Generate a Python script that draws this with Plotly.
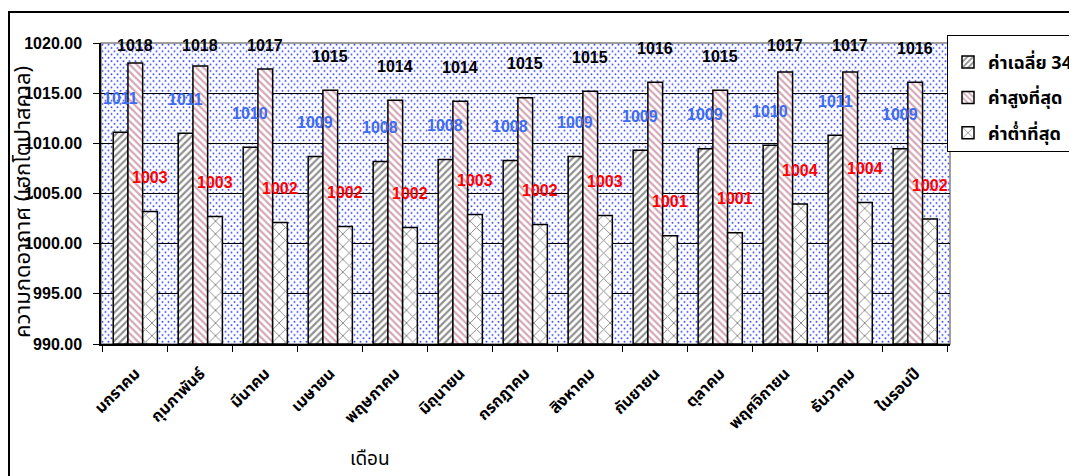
import base64
import plotly.graph_objects as go

months = ["มกราคม", "กุมภาพันธ์", "มีนาคม", "เมษายน", "พฤษภาคม", "มิถุนายน", "กรกฎาคม",
          "สิงหาคม", "กันยายน", "ตุลาคม", "พฤศจิกายน", "ธันวาคม", "ในรอบปี"]
avg_34y = [1011.1, 1011.0, 1009.6, 1008.7, 1008.2, 1008.4, 1008.3, 1008.7, 1009.3, 1009.45, 1009.8, 1010.8, 1009.45]
max_val = [1018.0, 1017.7, 1017.4, 1015.3, 1014.3, 1014.2, 1014.55, 1015.2, 1016.1, 1015.3, 1017.1, 1017.1, 1016.1]
min_val = [1003.2, 1002.7, 1002.1, 1001.7, 1001.6, 1002.9, 1001.9, 1002.8, 1000.8, 1001.1, 1003.95, 1004.1, 1002.45]
series_names = ["ค่าเฉลี่ย 34 ปี", "ค่าสูงที่สุด", "ค่าต่ำที่สุด"]
y_ticks = [990, 995, 1000, 1005, 1010, 1015, 1020]

# page has an 8px body margin; layout numbers below are in figure pixels
OFF = 8
W, H = 1077, 476
PW, PH = 849, 301
ML, MT = 101 - OFF, 43 - OFF
MR, MB = W - ML - PW, H - MT - PH
Y0, Y1 = 990, 1020
BARGAP = 0.32

THAI = "Tahoma, 'Noto Sans Thai', 'Leelawadee UI', 'Noto Sans', sans-serif"
NUM = "Arial, 'Liberation Sans', sans-serif"


def px_x(sx):
    return (sx - OFF - ML) / PW


def px_y(sy):
    return 1 - (sy - OFF - MT) / PH


fig = go.Figure()
styles = [
    dict(shape="/", fg="#222222", size=5, sol=0.45),
    dict(shape="\\", fg="#a8506e", size=5, sol=0.45),
    dict(shape="x", fg="#111111", size=9, sol=0.2),
]
for name, vals, st in zip(series_names, [avg_34y, max_val, min_val], styles):
    fig.add_trace(go.Bar(
        x=months, y=[v - Y0 for v in vals], base=Y0, name=name,
        legendgroup=name,
        marker=dict(color="white", line=dict(color="black", width=1.5),
                    pattern=dict(shape=st["shape"], fgcolor=st["fg"], bgcolor="white",
                                 size=st["size"], solidity=st["sol"])),
        hoverinfo="skip",
    ))

# data labels
cat_px = PW / len(months)
bar_px = cat_px * (1 - BARGAP) / 3
px_per_unit = PH / (Y1 - Y0)
lab_off = 34 / px_per_unit
cap = Y1 - 2.5 / px_per_unit
label_colors = ["#3d6bf2", "#000000", "#ff0000"]
for k, (vals, col) in enumerate(zip([avg_34y, max_val, min_val], label_colors)):
    for m, v in zip(months, vals):
        fig.add_annotation(
            x=m, y=min(v + lab_off, cap), xref="x", yref="y",
            xshift=(k - 1) * bar_px, yanchor="middle", xanchor="center",
            text=f"{v:.0f}", showarrow=False,
            font=dict(family=NUM, size=16, color=col, weight="bold"),
        )

# dotted background
svg = (f'<svg xmlns="http://www.w3.org/2000/svg" width="{PW}" height="{PH}">'
       '<defs><pattern id="d" width="6" height="6.6" patternUnits="userSpaceOnUse">'
       '<rect width="6" height="6.6" fill="white"/>'
       '<circle cx="1.5" cy="1.6" r="1" fill="#3a4cff"/>'
       '<circle cx="4.5" cy="4.9" r="1" fill="#3a4cff"/>'
       '</pattern></defs>'
       f'<rect width="{PW}" height="{PH}" fill="url(#d)"/></svg>')
uri = "data:image/svg+xml;base64," + base64.b64encode(svg.encode()).decode()
fig.add_layout_image(source=uri, xref="paper", yref="paper", x=0, y=1, sizex=1, sizey=1,
                     xanchor="left", yanchor="top", sizing="stretch", layer="below")

# plot-area frame (grey) and outer chart frame
fig.add_shape(type="rect", xref="paper", yref="paper", x0=0, x1=1, y0=0, y1=1,
              line=dict(color="#808080", width=1.5), layer="below")
fig.add_shape(type="rect", xref="paper", yref="paper",
              x0=px_x(9), x1=px_x(W + 40), y0=px_y(H + 40), y1=px_y(12),
              line=dict(color="black", width=2))

# axis titles
fig.add_annotation(text="ความกดอากาศ (เฮกโตปาสคาล)", xref="paper", yref="paper",
                   x=px_x(23), y=px_y(202), textangle=-90, showarrow=False,
                   xanchor="center", yanchor="middle",
                   font=dict(family=THAI, size=22, color="black"))
fig.add_annotation(text="เดือน", xref="paper", yref="paper",
                   x=px_x(370), y=px_y(459), showarrow=False,
                   xanchor="center", yanchor="middle",
                   font=dict(family=THAI, size=19, color="black"))

fig.update_layout(
    width=W, height=H,
    margin=dict(l=ML, r=MR, t=MT, b=MB, autoexpand=False),
    paper_bgcolor="white", plot_bgcolor="white",
    barmode="group", bargap=BARGAP, bargroupgap=0,
    showlegend=True,
    legend=dict(x=px_x(947), y=px_y(35), xanchor="left", yanchor="top",
                bgcolor="white", bordercolor="black", borderwidth=1,
                font=dict(family=THAI, size=18, color="black", weight="bold"),
                title=dict(text=" ", font=dict(size=6)),
                tracegroupgap=9, traceorder="grouped", itemwidth=30),
)
fig.update_xaxes(type="category", tickangle=-45, tickson="boundaries", ticks="outside",
                 ticklen=6, tickcolor="black", showline=True, linecolor="black", linewidth=1.5,
                 showgrid=False, ticklabelstandoff=12,
                 tickfont=dict(family=THAI, size=16, color="black", weight="bold"))
fig.update_yaxes(range=[Y0, Y1], tickvals=y_ticks, tickformat=".2f", ticks="outside",
                 ticklen=6, tickcolor="black", showline=True, linecolor="black", linewidth=1.5,
                 showgrid=True, gridcolor="black", gridwidth=1, zeroline=False,
                 ticklabelstandoff=8,
                 tickfont=dict(family=NUM, size=16, color="black", weight="bold"))

fig.write_html("out.html")
